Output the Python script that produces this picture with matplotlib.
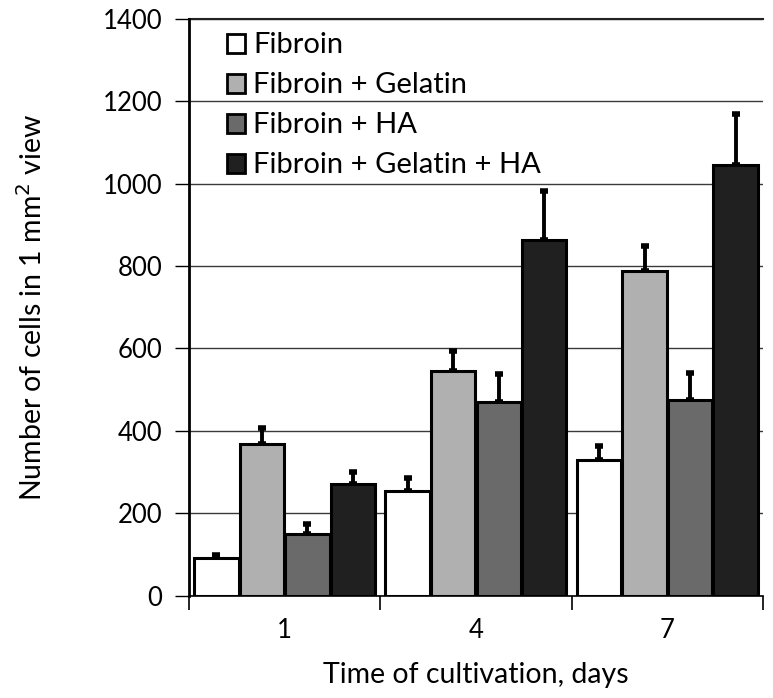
import matplotlib
matplotlib.use("Agg")
import matplotlib.pyplot as plt
import numpy as np

days = ["1", "4", "7"]
series = ["Fibroin", "Fibroin + Gelatin", "Fibroin + HA", "Fibroin + Gelatin + HA"]
values = {
    "Fibroin": [90, 255, 329],
    "Fibroin + Gelatin": [367, 546, 789],
    "Fibroin + HA": [149, 470, 474],
    "Fibroin + Gelatin + HA": [272, 863, 1045],
}
errors = {
    "Fibroin": [8, 31, 34],
    "Fibroin + Gelatin": [41, 48, 60],
    "Fibroin + HA": [25, 67, 66],
    "Fibroin + Gelatin + HA": [27, 120, 124],
}
colors = ["#ffffff", "#b0b0b0", "#6a6a6a", "#202020"]
yticks = [0, 200, 400, 600, 800, 1000, 1200, 1400]

plt.rcParams['font.family'] = ['Lato', 'DejaVu Sans']

fig = plt.figure(figsize=(7.73, 6.98), dpi=100)
ax = fig.add_axes([0.2445, 0.1468, 0.987 - 0.2445, 0.9728 - 0.1468])

x = np.arange(len(days)) + 0.5
w = 0.232
offs = np.array([-1.5, -0.5, 0.5, 1.5]) * 0.238
for i, s in enumerate(series):
    ax.bar(x + offs[i], values[s], width=w, color=colors[i], edgecolor='black',
           linewidth=2.2, label=s, zorder=3)
    ax.errorbar(x + offs[i], values[s], yerr=[np.zeros(3), errors[s]], fmt='none',
                ecolor='black', elinewidth=2.8, capsize=3, capthick=4, zorder=2)

ax.set_xlim(0, 3)
ax.set_ylim(0, 1400)
ax.set_yticks(yticks)
ax.set_yticklabels([str(t) for t in yticks], fontsize=18.5)
ax.yaxis.grid(True, color='#3a3a3a', linewidth=1.0, zorder=0)
ax.set_axisbelow(True)
ax.set_xticks(x)
ax.set_xticklabels(days, fontsize=18.5)
ax.set_xticks([0, 1, 2, 3], minor=True)
ax.tick_params(axis='x', which='major', length=0, pad=16)
ax.tick_params(axis='x', which='minor', length=10, width=1.2, direction='out')
ax.tick_params(axis='y', length=10, width=1.0, pad=9, direction='out')

for sp in ['top', 'right']:
    ax.spines[sp].set_visible(False)
ax.spines['left'].set_linewidth(2.0)
ax.spines['bottom'].set_linewidth(1.2)
ax.axhline(1400, color='#222222', linewidth=1.5, zorder=1, clip_on=False)

ax.set_ylabel("Number of cells in 1 mm$^2$ view", fontsize=20.5, labelpad=40)
ax.set_xlabel("Time of cultivation, days", fontsize=20.5, labelpad=14)

leg = ax.legend(loc='upper left', bbox_to_anchor=(0.035, 1.007), frameon=False,
                fontsize=21, handlelength=0.62, handleheight=0.62, handletextpad=0.3,
                labelspacing=0.48, borderaxespad=0.2)
for h in leg.legend_handles:
    h.set_linewidth(2.0)

fig.savefig("out.png", dpi=100)
